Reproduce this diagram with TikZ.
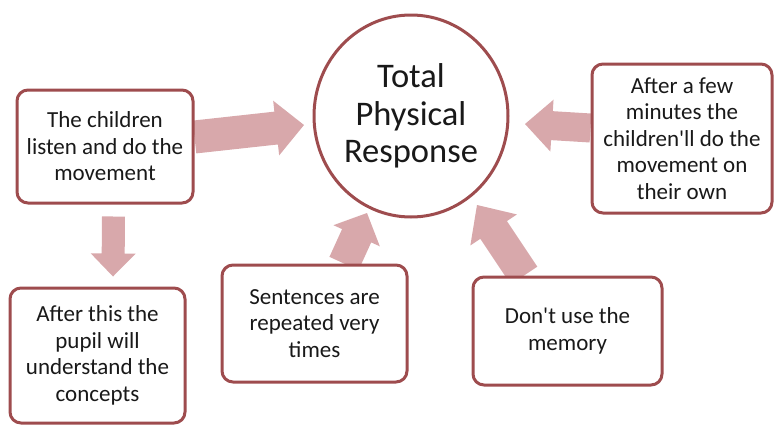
\documentclass[tikz,border=0pt]{standalone}
\usepackage{fontspec}
\setmainfont{Carlito}
\usetikzlibrary{calc,shapes.geometric,backgrounds}
\definecolor{bordc}{RGB}{158,76,78}
\definecolor{arrc}{RGB}{216,168,171}
\definecolor{txtc}{RGB}{25,25,25}
\tikzset{
  box/.style={draw=bordc, line width=3pt, rounded corners=11pt, fill=white,
    align=center, text=txtc, inner sep=0pt,
    font=\fontsize{23}{26.5}\selectfont},
  hub/.style={draw=bordc, line width=3pt, ellipse, fill=white, inner sep=0pt,
    align=center, text=txtc, font=\fontsize{34.5}{37.5}\selectfont},
}
% fat arrow: #1 tail coordinate, #2 tip coordinate, #3 half shaft, #4 half head, #5 head length
\newcommand{\fatarrow}[5]{%
  \coordinate (fab) at ($(#2)!#5!(#1)$);
  \fill[arrc] ($(#1)!#3!90:(#2)$) -- ($(fab)!#3!-90:(#1)$) -- ($(fab)!#4!-90:(#1)$)
    -- (#2) -- ($(fab)!#4!90:(#1)$) -- ($(fab)!#3!90:(#1)$) -- ($(#1)!#3!-90:(#2)$) -- cycle;
}
\begin{document}
\begin{tikzpicture}[x=1pt,y=-1pt]
\path[use as bounding box] (0,0) rectangle (774,426);

\node[hub, minimum width=194pt, minimum height=202pt] (c) at (411,116) {Total\\Physical\\Response};

\node[box, minimum width=176pt, minimum height=113pt] (b1) at (105,146.5)
  {The children\\listen and do the\\movement};
\node[box, minimum width=180pt, minimum height=149pt] (b2) at (682,138.5)
  {After a few\\minutes the\\children\textquotesingle ll do the\\movement on\\their own};
\node[box, minimum width=175pt, minimum height=135pt] (b3) at (97.5,355.5)
  {After this the\\pupil will\\understand the\\concepts};
\node[box, minimum width=185pt, minimum height=117pt] (b4) at (314.5,323.5)
  {Sentences are\\repeated very\\times};
\node[box, minimum width=189pt, minimum height=108pt] (b5) at (567.5,331)
  {Don\textquotesingle t use the\\memory};

\coordinate (s1) at ($(b1.east)+(0,-9.5)$);
\coordinate (t1) at ($(c.center)+(-107,9)$);
\coordinate (s2) at ($(b2.west)+(0,-10.5)$);
\coordinate (t2) at ($(c.center)+(114,8)$);
\coordinate (s3) at ($(b1.south)+(8.5,12)$);
\coordinate (t3) at ($(b3.north)+(15.5,-10)$);
\coordinate (s4) at ($(b4.north)+(29.5,0)$);
\coordinate (t4) at ($(c.center)+(-44,97)$);
\coordinate (s5) at ($(b5.north)+(-43.5,0)$);
\coordinate (t5) at ($(c.center)+(66,89)$);

\begin{scope}[on background layer]
\fatarrow{s1}{t1}{16.5pt}{27.5pt}{28pt}
\fatarrow{s2}{t2}{14.5pt}{26pt}{27pt}
\fatarrow{s3}{t3}{11.5pt}{22.5pt}{23pt}
\fatarrow{s4}{t4}{16pt}{25.5pt}{25pt}
\fatarrow{s5}{t5}{16pt}{28pt}{30pt}
\end{scope}
\end{tikzpicture}
\end{document}
